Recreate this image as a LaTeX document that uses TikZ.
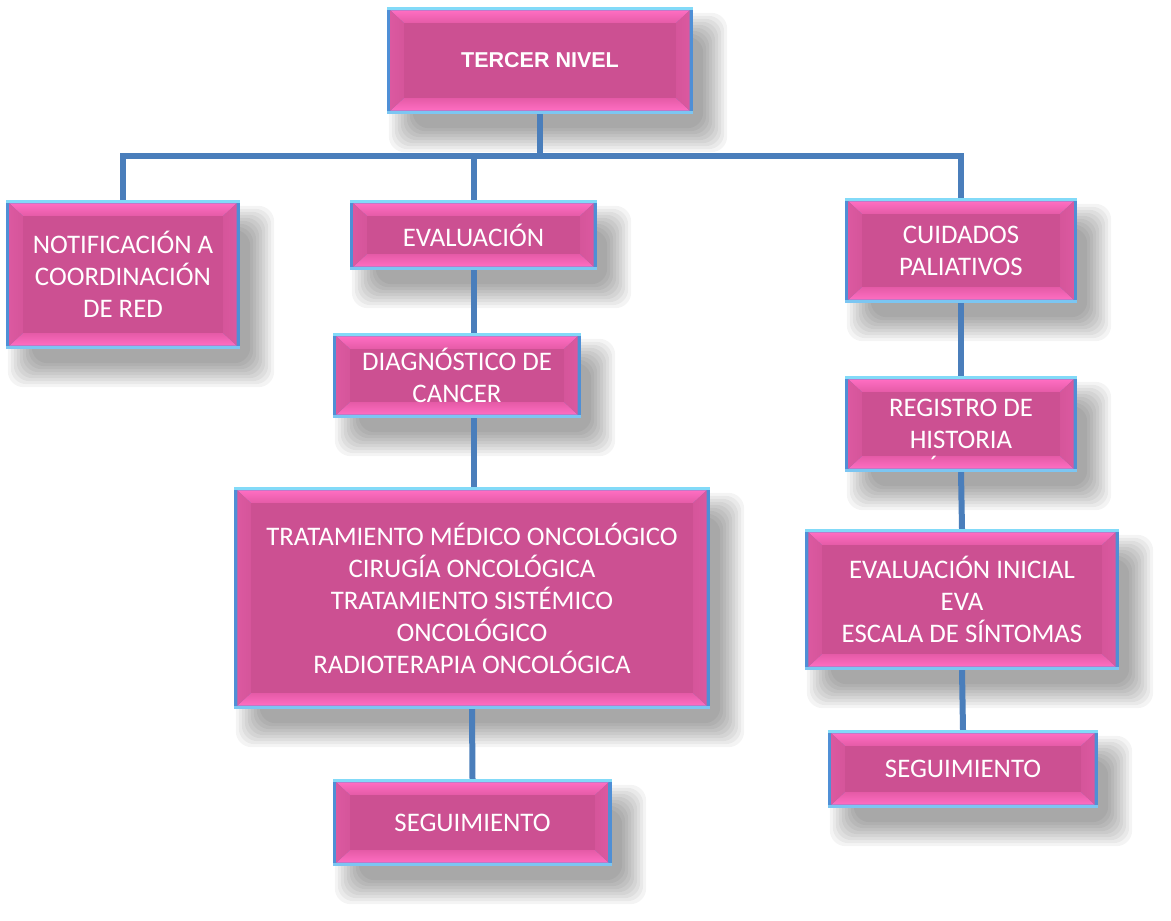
\documentclass[tikz,border=0pt]{standalone}
\usepackage{fontspec}
\setmainfont{Carlito}
\newfontfamily\headfont{Liberation Sans}
\usetikzlibrary{calc}

\definecolor{edgeblue}{HTML}{4F8FD6}
\definecolor{edgecyan}{HTML}{82DAF8}
\definecolor{edgelow}{HTML}{7CC6F2}
\definecolor{pinkhi}{HTML}{FF6EC2}
\definecolor{pinkmid}{HTML}{E45AA6}
\definecolor{pinkside}{HTML}{D5559A}
\definecolor{pinkface}{HTML}{CC5092}
\definecolor{linkblue}{HTML}{4A7EBB}

\pgfdeclarelayer{backdrop}
\pgfdeclarelayer{shadow}
\pgfdeclarelayer{links}
\pgfdeclarelayer{bevel}
\pgfsetlayers{backdrop,shadow,links,bevel,main}

\tikzset{
  boxtext/.style={rectangle, inner sep=0pt, text=white, align=center,
    font=\fontsize{26.8}{32}\selectfont},
  link/.style={draw=linkblue, line width=6pt},
}

% #1 name, #2 #3 centre, #4 width, #5 height, #6 text
\newcommand\bevelbox[6]{%
  \node[boxtext, minimum width=#4pt, minimum height=#5pt] (#1) at (#2,#3) {#6};
  \begin{pgfonlayer}{shadow}
    \foreach \r in {-18,-15,...,6} {
      \fill[black, opacity=0.042, rounded corners=16pt]
        ($(#1.north west)+({(20+(\r))*1pt},{(-24-(\r))*1pt})$) rectangle
        ($(#1.south east)+({(16-(\r))*1pt},{(-20+(\r))*1pt})$);
    }
  \end{pgfonlayer}
  \begin{pgfonlayer}{bevel}
    % frame: blue sides, light blue top and bottom rims
    \fill[edgeblue] (#1.north west) rectangle (#1.south east);
    \fill[edgecyan] (#1.north west) rectangle ($(#1.north east)+(0,-3.5pt)$);
    \fill[edgelow] ($(#1.south west)+(0,3.5pt)$) rectangle (#1.south east);
    % outer corners of the bevel
    \coordinate (#1-o1) at ($(#1.north west)+(3.5pt,-3.5pt)$);
    \coordinate (#1-o2) at ($(#1.north east)+(-3.5pt,-3.5pt)$);
    \coordinate (#1-o3) at ($(#1.south east)+(-3.5pt,3.5pt)$);
    \coordinate (#1-o4) at ($(#1.south west)+(3.5pt,3.5pt)$);
    % inner corners of the bevel
    \coordinate (#1-i1) at ($(#1-o1)+(14pt,-13pt)$);
    \coordinate (#1-i2) at ($(#1-o2)+(-14pt,-13pt)$);
    \coordinate (#1-i3) at ($(#1-o3)+(-14pt,13pt)$);
    \coordinate (#1-i4) at ($(#1-o4)+(14pt,13pt)$);
    \shade[top color=pinkhi, bottom color=pinkmid]
      (#1-o1) -- (#1-o2) -- (#1-i2) -- (#1-i1) -- cycle;
    \shade[top color=pinkmid, bottom color=pinkhi]
      (#1-i4) -- (#1-i3) -- (#1-o3) -- (#1-o4) -- cycle;
    \shade[left color=pinkside!85!pinkhi, right color=pinkside]
      (#1-o1) -- (#1-i1) -- (#1-i4) -- (#1-o4) -- cycle;
    \shade[left color=pinkside, right color=pinkside!85!pinkhi]
      (#1-o2) -- (#1-i2) -- (#1-i3) -- (#1-o3) -- cycle;
    \fill[pinkface] (#1-i1) rectangle (#1-i3);
  \end{pgfonlayer}
}

\begin{document}
\begin{tikzpicture}[x=1pt, y=-1pt]
  \begin{pgfonlayer}{backdrop}
    \fill[white] (0,0) rectangle (1171,921);
  \end{pgfonlayer}
  \useasboundingbox (0,0) rectangle (1171,921);

  \bevelbox{top}{540}{60.5}{306}{107}{\headfont\bfseries\fontsize{21.5}{25}\selectfont TERCER NIVEL}
  \bevelbox{notif}{123}{274.5}{234}{149}{NOTIFICACIÓN A\\COORDINACIÓN\\DE RED}
  \bevelbox{eval}{473.5}{235}{247}{70}{EVALUACIÓN}
  \bevelbox{cuid}{961}{250.5}{232}{105}{CUIDADOS\\PALIATIVOS}
  \bevelbox{diag}{457}{375.5}{248}{85}{DIAGNÓSTICO DE\\CANCER}
  \bevelbox{reg}{961}{424}{232}{96}{REGISTRO DE\\HISTORIA}
  \bevelbox{trat}{472}{598}{476}{222}{TRATAMIENTO MÉDICO ONCOLÓGICO\\CIRUGÍA ONCOLÓGICA\\TRATAMIENTO SISTÉMICO\\ONCOLÓGICO\\RADIOTERAPIA ONCOLÓGICA}
  \bevelbox{evini}{962}{599.5}{314}{141}{EVALUACIÓN INICIAL\\EVA\\ESCALA DE SÍNTOMAS}
  \bevelbox{segl}{472.5}{822.5}{279}{87}{SEGUIMIENTO}
  \bevelbox{segr}{963}{769}{270}{78}{SEGUIMIENTO}

  % stray accent left under the second line of the record box
  \node[boxtext] (acc) at (934,465) {´};

  % connectors
  \coordinate (hub) at (540,156);
  \begin{pgfonlayer}{links}
    \draw[link] (top.south) -- (hub);
    \draw[link] (notif.north) |- (hub) -| (cuid.north);
    \draw[link] (eval.north) -- (eval.north |- hub);
    \draw[link] (eval.south) -- (eval.south |- diag.north);
    \draw[link] (eval.south |- diag.south) -- (eval.south |- trat.north);
    \draw[link] (trat.south) -- (segl.north);
    \draw[link] (cuid.south) -- (reg.north);
    \draw[link] (reg.south) -- (evini.north);
    \draw[link] (evini.south) -- (segr.north);
  \end{pgfonlayer}
\end{tikzpicture}
\end{document}
